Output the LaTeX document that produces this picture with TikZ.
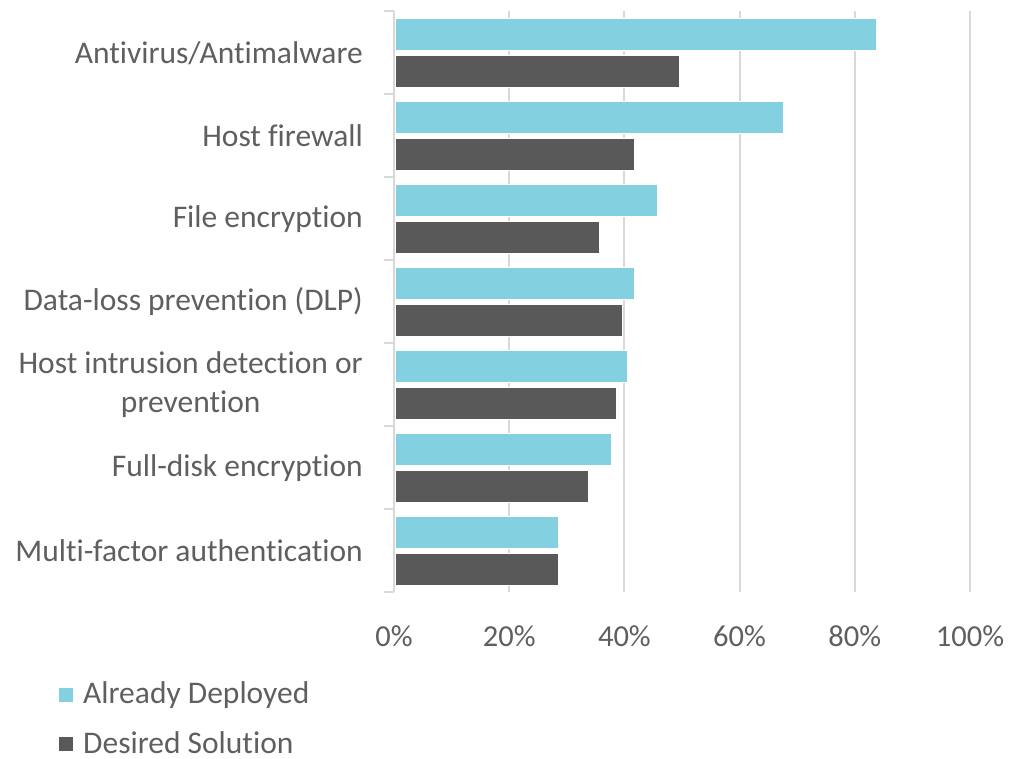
\documentclass[tikz,border=0pt]{standalone}
\usepackage{fontspec}
\setmainfont{Carlito}[Ligatures=NoCommon]
\definecolor{deployed}{HTML}{83D0E0}
\definecolor{desired}{HTML}{595959}
\definecolor{gridgray}{HTML}{D9D9D9}
\definecolor{labelgray}{HTML}{5F5F5F}

\begin{document}
\begin{tikzpicture}[x=1pt,y=-1pt,
		catlabel/.style={anchor=east, align=center, text=labelgray, inner sep=0pt,
			font=\fontsize{31.5}{39}\selectfont},
		ticklabel/.style={anchor=center, text=labelgray, inner sep=0pt,
			font=\fontsize{30.5}{36}\selectfont},
		legendtext/.style={anchor=base west, text=labelgray, inner sep=0pt,
			font=\fontsize{31.5}{36}\selectfont},
		gridline/.style={draw=gridgray, line width=2pt},
		barbox/.style={draw=white, line width=1pt}]
		\useasboundingbox (0,0) rectangle (1014,758);
		\coordinate (top) at (394, 11);
		\coordinate (bottom) at (394, 592);
		
		% grid and axis
		\foreach \p in {20, 40, 60, 80, 100} {
			\draw[gridline] ({394+5.76*\p}, 11) -- ({394+5.76*\p}, 592);
		}
		\draw[gridline] (top) -- (bottom);
		\foreach \k in {0,...,7} {
			\draw[gridline] (384, {11+83*\k}) -- (394, {11+83*\k});
		}
		
		% bars and category labels
		\foreach \k/\name/\a/\d in {0/{Antivirus/Antimalware}/83.7/49.6,
				1/Host firewall/67.7/41.7,
				2/File encryption/45.7/35.6,
				3/Data-loss prevention (DLP)/41.7/39.6,
				4/{Host intrusion detection or\\prevention}/40.6/38.7,
				5/Full-disk encryption/37.7/33.7,
				6/Multi-factor authentication/28.6/28.6} {
			\fill[deployed, barbox] (395, {11+83*\k+7}) rectangle ({394+5.76*\a}, {11+83*\k+39});
			\fill[desired, barbox] (395, {11+83*\k+44}) rectangle ({394+5.76*\d}, {11+83*\k+76});
			\node[catlabel] (lab\k) at (363, {11+83*\k+42}) {\name};
		}
		
		% value axis labels
		\foreach \p in {0, 20, 40, 60, 80, 100} {
			\node[ticklabel] (tick\p) at ({394+5.76*\p}, 636) {\p\%};
		}
		
		% legend
		\fill[deployed] (59, 688) rectangle (73, 702);
		\node[legendtext] (legdeployed) at (83, 703) {Already Deployed};
		\fill[desired] (59, 737) rectangle (73, 751);
		\node[legendtext] (legdesired) at (83, 753) {Desired Solution};
	\end{tikzpicture}
\end{document}
